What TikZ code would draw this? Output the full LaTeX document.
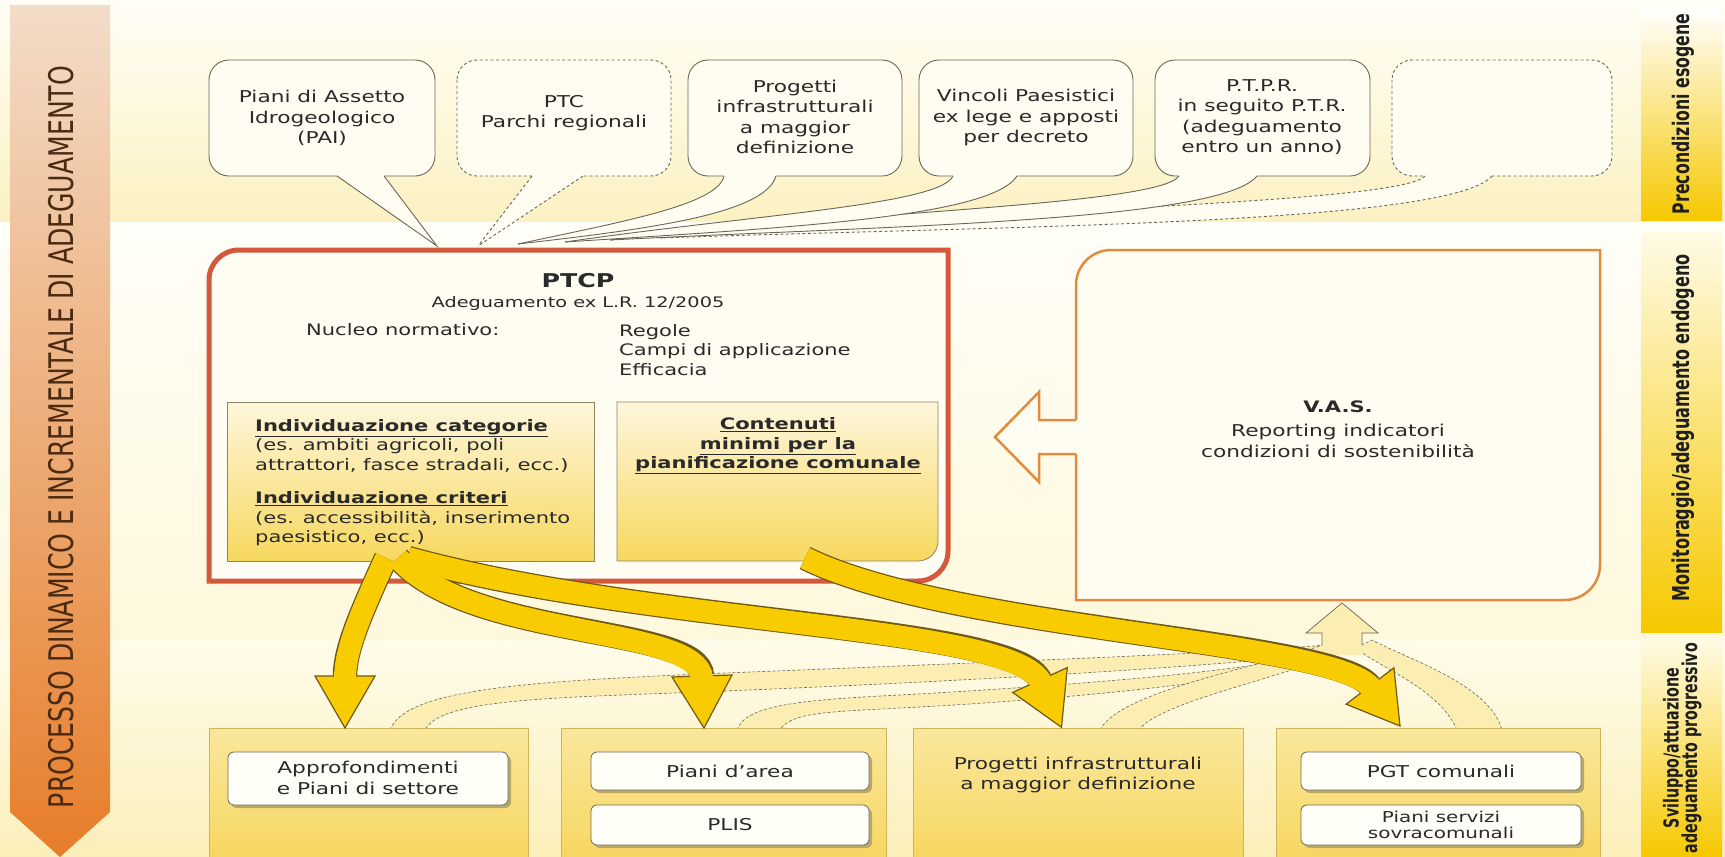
\documentclass[tikz,border=0pt]{standalone}
\usepackage{graphicx}
\usepackage{fontspec}
\setmainfont{DejaVu Sans}[FakeStretch=1.33]
\newfontfamily\plainfont{DejaVu Sans}
\definecolor{txtc}{HTML}{2A2A2A}
\definecolor{cream}{HTML}{FFFDF2}
\definecolor{calledge}{HTML}{6A6658}
\definecolor{bgtopA}{HTML}{FFFEF6}
\definecolor{bgtopB}{HTML}{FBF1C2}
\definecolor{bgmidA}{HTML}{FFFEF8}
\definecolor{bgmidB}{HTML}{FEF8DC}
\definecolor{bgbotA}{HTML}{FFFCEB}
\definecolor{bgbotB}{HTML}{FBEFB9}
\definecolor{labY}{HTML}{F6C800}
\definecolor{labTop}{HTML}{FFFBE6}
\definecolor{labtxt}{HTML}{1E1E1E}
\definecolor{arrA}{HTML}{F3DCC8}
\definecolor{arrB}{HTML}{E77D29}
\definecolor{procc}{HTML}{4B2A12}
\definecolor{ptcpred}{HTML}{D4583A}
\definecolor{vasor}{HTML}{E38B3D}
\definecolor{inA}{HTML}{FEF6DC}
\definecolor{inB}{HTML}{F7D85E}
\definecolor{inedge}{HTML}{8E8466}
\definecolor{bbA}{HTML}{FAE79C}
\definecolor{bbB}{HTML}{F7D660}
\definecolor{bbedge}{HTML}{CDB65E}
\definecolor{ibedge}{HTML}{6E6A5C}
\definecolor{ibfill}{HTML}{FFFEF7}
\definecolor{ibshadow}{HTML}{B8A868}
\definecolor{yarr}{HTML}{F8CC00}
\definecolor{yedgec}{HTML}{6E5A18}
\definecolor{lbandc}{HTML}{FCEEB2}
\begin{document}
\begin{tikzpicture}[x={(1pt,0)},y={(0,-1pt)},
 ctext/.style={text=txtc, align=center, inner sep=0pt, font=\fontsize{16.3}{20.5}\selectfont},
 btext/.style={text=txtc, inner sep=0pt, font=\fontsize{15.8}{19.5}\selectfont},
 callbox/.style={draw=calledge, line width=0.9pt, fill=cream, rounded corners=20pt},
 calldashed/.style={callbox, dash pattern=on 3pt off 2.5pt},
 tailline/.style={draw=calledge, line width=0.9pt},
 taildashed/.style={tailline, dash pattern=on 3pt off 2.5pt},
 inbox/.style={draw=inedge, line width=0.8pt, top color=inA, bottom color=inB},
 bbox/.style={draw=bbedge, line width=1pt, top color=bbA, bottom color=bbB},
 ibox/.style={draw=ibedge, line width=0.8pt, fill=ibfill, rounded corners=6pt},
 ishadow/.style={fill=ibshadow, rounded corners=6pt},
 lband/.style={fill=lbandc, draw=calledge, line width=0.6pt, dash pattern=on 3pt off 2pt},
 yedgeline/.style={draw=yedgec, line width=24.5pt},
 yfillline/.style={draw=yarr, line width=22pt},
 yhead/.style={fill=yarr, draw=yedgec, line width=1.2pt, line join=miter},
 labtext/.style={text=labtxt, inner sep=0pt, rotate=90}
]
\useasboundingbox (0,0) rectangle (1725,857);
% background bands
\path[top color=bgtopA, bottom color=bgtopB] (0,0) rectangle (1725,222);
\path[top color=bgmidA, bottom color=bgmidB] (0,222) rectangle (1725,640);
\path[top color=bgbotA, bottom color=bgbotB] (0,640) rectangle (1725,857);

% left process arrow
\path[top color=arrA, bottom color=arrB] (10,5) -- (110,5) -- (110,812) -- (60,857) -- (10,812) -- cycle;
\node[rotate=90, text=procc, inner sep=0pt] (proc) at (61,437) {\scalebox{1}[1.35]{\resizebox{742pt}{!}{\plainfont PROCESSO DINAMICO E INCREMENTALE DI ADEGUAMENTO}}};

% right labels
\path[top color=white, bottom color=labY] (1641,8) rectangle (1722,220);
\path[top color=labTop, bottom color=labY] (1641,231) rectangle (1722,632);
\path[top color=labTop, bottom color=labY] (1641,638) rectangle (1722,857);
\node[labtext] (lab1) at (1683,114) {\scalebox{1}[1.45]{\resizebox{200pt}{!}{\plainfont\bfseries Precondizioni esogene}}};
\node[labtext] (lab2) at (1683,428) {\scalebox{1}[1.45]{\resizebox{347pt}{!}{\plainfont\bfseries Monitoraggio/adeguamento endogeno}}};
\node[labtext] (lab3) at (1683,748) {\scalebox{1}[1.45]{\resizebox{210pt}{!}{\plainfont\bfseries\begin{tabular}{@{}c@{}}Sviluppo/attuazione\\[-3pt]adeguamento progressivo\end{tabular}}}};

% callout boxes
\path[callbox] (209,60) rectangle (435,176);
\path[calldashed] (457,60) rectangle (671,176);
\path[callbox] (688,60) rectangle (902,176);
\path[callbox] (919,60) rectangle (1133,176);
\path[callbox] (1155,60) rectangle (1370,176);
\path[calldashed] (1392,60) rectangle (1612,176);

% tails (far ones first)
\fill[cream] (1425,171) -- (1425,176) .. controls (1400,205) and (950,210) .. (660,238) .. controls (1000,226) and (1450,225) .. (1492,176) -- (1492,171) -- cycle;
\draw[taildashed] (1425,176) .. controls (1400,205) and (950,210) .. (660,238);
\draw[taildashed] (1492,176) .. controls (1450,225) and (1000,226) .. (660,238);

\fill[cream] (1179,171) -- (1179,176) .. controls (1160,205) and (850,212) .. (610,240) .. controls (880,226) and (1220,222) .. (1257,176) -- (1257,171) -- cycle;
\draw[tailline] (1179,176) .. controls (1160,205) and (850,212) .. (610,240);
\draw[tailline] (1257,176) .. controls (1220,222) and (880,226) .. (610,240);

\fill[cream] (953,171) -- (953,176) .. controls (940,205) and (750,215) .. (565,242) .. controls (780,228) and (990,218) .. (1017,176) -- (1017,171) -- cycle;
\draw[tailline] (953,176) .. controls (940,205) and (750,215) .. (565,242);
\draw[tailline] (1017,176) .. controls (990,218) and (780,228) .. (565,242);

\fill[cream] (724,171) -- (724,176) .. controls (718,205) and (620,222) .. (518,244) .. controls (640,230) and (765,215) .. (776,176) -- (776,171) -- cycle;
\draw[tailline] (724,176) .. controls (718,205) and (620,222) .. (518,244);
\draw[tailline] (776,176) .. controls (765,215) and (640,230) .. (518,244);

\fill[cream] (532,171) -- (532,176) -- (478,246) -- (583,176) -- (583,171) -- cycle;
\draw[taildashed] (532,176) -- (478,246);
\draw[taildashed] (583,176) -- (478,246);

\fill[cream] (337,171) -- (337,176) -- (437,246) -- (384,176) -- (384,171) -- cycle;
\draw[tailline] (337,176) -- (437,246) -- (384,176);

% callout texts
\node[ctext] (c1) at (322,118) {Piani di Assetto\\Idrogeologico\\(PAI)};
\node[ctext] (c2) at (564,113) {PTC\\Parchi regionali};
\node[ctext] (c3) at (795,117) {Progetti\\infrastrutturali\\a maggior\\definizione};
\node[ctext] (c4) at (1026,118) {Vincoli Paesistici\\ex lege e apposti\\per decreto};
\node[ctext] (c5) at (1262,117) {P.T.P.R.\\in seguito P.T.R.\\(adeguamento\\entro un anno)};

% light rising bands from bottom boxes
\path[lband] (390,730) .. controls (405,690) and (520,682) .. (700,674) .. controls (1000,662) and (1250,652) .. (1325,645) -- (1335,652) .. controls (1250,664) and (1000,680) .. (700,692) .. controls (540,698) and (440,700) .. (425,730) -- cycle;
\path[lband] (737,730) .. controls (745,705) and (800,700) .. (900,695) .. controls (1100,684) and (1280,668) .. (1325,650) -- (1335,655) .. controls (1290,675) and (1100,698) .. (900,708) .. controls (830,712) and (790,712) .. (780,730) -- cycle;
\path[lband] (1100,730) .. controls (1120,690) and (1270,665) .. (1322,645) -- (1340,650) .. controls (1300,675) and (1160,700) .. (1139,730) -- cycle;
\path[lband] (1457,730) .. controls (1440,690) and (1385,670) .. (1355,648) -- (1372,640) .. controls (1410,660) and (1490,685) .. (1502,730) -- cycle;
% hollow up arrow towards VAS
\fill[lbandc] (1322,655) -- (1322,633) -- (1306,633) -- (1342,603) -- (1378,633) -- (1362,633) -- (1362,655) -- cycle;
\draw[calledge, line width=0.7pt] (1322,645) -- (1322,633) -- (1306,633) -- (1342,603) -- (1378,633) -- (1362,633) -- (1362,645);

% bottom boxes
\path[bbox] (209,728) rectangle (528,862);
\path[bbox] (561,728) rectangle (886,862);
\path[bbox] (913,728) rectangle (1243,862);
\path[bbox] (1276,728) rectangle (1600,862);
\path[ishadow] (231,755) rectangle (511,808);
\path[ibox] (228,752) rectangle (508,805);
\path[ishadow] (594,755) rectangle (872,793);
\path[ibox] (591,752) rectangle (869,790);
\path[ishadow] (594,808) rectangle (872,848);
\path[ibox] (591,805) rectangle (869,845);
\path[ishadow] (1304,755) rectangle (1584,793);
\path[ibox] (1301,752) rectangle (1581,790);
\path[ishadow] (1304,808) rectangle (1584,848);
\path[ibox] (1301,805) rectangle (1581,845);
\node[ctext] (tappro) at (368,778) {Approfondimenti\\e Piani di settore};
\node[ctext] (tpda) at (730,771) {Piani d'area};
\node[ctext] (tplis) at (730,825) {PLIS};
\node[ctext] (tprog) at (1078,775) {Progetti infrastrutturali\\a maggior definizione};
\node[ctext] (tpgt) at (1441,771) {PGT comunali};
\node[ctext, font=\fontsize{15}{16}\selectfont] (tpsc) at (1441,825) {Piani servizi\\sovracomunali};

% PTCP box
\path[draw=ptcpred, line width=5pt, fill=cream] (239,250) -- (948,250) -- (948,551) .. controls (948,567.6) and (934.6,581) .. (918,581) -- (209,581) -- (209,280) .. controls (209,263.4) and (222.4,250) .. (239,250) -- cycle;
\draw[white, line width=1.2pt] (240,254.5) -- (943.5,254.5) -- (943.5,551) .. controls (943.5,565) and (932,576.5) .. (918,576.5) -- (213.5,576.5) -- (213.5,280) .. controls (213.5,266) and (225,254.5) .. (240,254.5) -- cycle;
\path[inbox] (227,402) rectangle (594,561);
\path[inbox] (617,402) -- (938,402) -- (938,541) .. controls (938,552) and (929,561) .. (918,561) -- (617,561) -- cycle;
\node[ctext, font=\bfseries\fontsize{19}{22}\selectfont] (ptcp) at (578,281) {PTCP};
\node[ctext, font=\fontsize{14.5}{17}\selectfont] (adeg) at (578,303) {Adeguamento ex L.R. 12/2005};
\node[btext, anchor=west] (nucleo) at (306,330) {Nucleo normativo:};
\node[btext, anchor=west, align=left] (regole) at (619,350) {Regole\\Campi di applicazione\\Efficacia};
\node[btext, anchor=west, align=left] (indcat) at (255,446) {\underline{\textbf{Individuazione categorie}}\\(es. ambiti agricoli, poli\\attrattori, fasce stradali, ecc.)};
\node[btext, anchor=west, align=left] (indcri) at (255,519) {\underline{\textbf{Individuazione criteri}}\\(es. accessibilità, inserimento\\paesistico, ecc.)};
\node[btext, align=center] (contenuti) at (778,446) {\underline{\textbf{Contenuti}}\\\underline{\textbf{minimi per la}}\\\underline{\textbf{pianificazione comunale}}};

% VAS box
\path[draw=vasor, line width=2.5pt, fill=cream] (1111,250) -- (1600,250) -- (1600,565) .. controls (1600,584.3) and (1584.3,600) .. (1565,600) -- (1076,600) -- (1076,285) .. controls (1076,265.7) and (1091.7,250) .. (1111,250) -- cycle;
\fill[cream] (1080,420) -- (1039,420) -- (1039,392) -- (995,437) -- (1039,482) -- (1039,454) -- (1080,454) -- cycle;
\draw[vasor, line width=2.5pt, line join=miter] (1076,420) -- (1039,420) -- (1039,392) -- (995,437) -- (1039,482) -- (1039,454) -- (1076,454);
\node[ctext, font=\bfseries\fontsize{15.8}{20}\selectfont] (vas) at (1338,407) {V.A.S.};
\node[ctext] (vasrep) at (1338,441) {Reporting indicatori\\condizioni di sostenibilità};

% yellow arrows from PTCP to the bottom boxes
\draw[yedgeline] (386,558) .. controls (360,615) and (345,650) .. (345,676);
\draw[yedgeline] (398,558) .. controls (470,640) and (700,625) .. (702,676);
\draw[yedgeline] (408,558) .. controls (650,625) and (1015,625) .. (1040,680);
\draw[yedgeline] (805,558) .. controls (950,630) and (1335,640) .. (1370,686);
\path[yhead] (315,676) -- (375,676) -- (345,728) -- cycle;
\path[yhead] (672,677) -- (732,675) -- (704,728) -- cycle;
\path[yhead] (1067.3,667.6) -- (1012.7,692.4) -- (1061.5,727.3) -- cycle;
\path[yhead] (1393.9,667.8) -- (1346.1,704.2) -- (1400,726) -- cycle;
\draw[yfillline] (386,558) .. controls (360,615) and (345,650) .. (345,679);
\draw[yfillline] (398,558) .. controls (470,640) and (700,625) .. (702,679);
\draw[yfillline] (408,558) .. controls (650,625) and (1015,625) .. (1041.2,682.7);
\draw[yfillline] (805,558) .. controls (950,630) and (1335,640) .. (1371.8,688.4);
\end{tikzpicture}
\end{document}
